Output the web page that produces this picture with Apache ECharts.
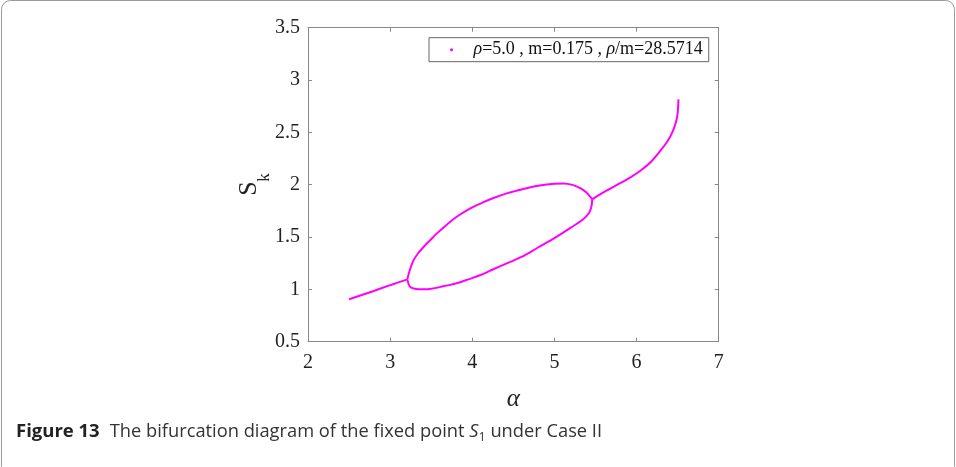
<!DOCTYPE html>
<html>
<head>
<meta charset="utf-8">
<script src="https://cdn.jsdelivr.net/npm/echarts@6/dist/echarts.min.js"></script>
<style>html,body{margin:0;padding:0;background:#fff;}#c{width:956px;height:467px;}</style>
</head>
<body>
<div id="c"></div>
<script>
// ---- data ----
const seriesName = 'ρ=5.0 , m=0.175 , ρ/m=28.5714';
const xTicks = [2, 3, 4, 5, 6, 7];
const yTicks = [0.5, 1, 1.5, 2, 2.5, 3, 3.5];

// period-1 branch before first bifurcation
const alphaLeft = [2.5, 2.8, 3.0, 3.21];
const sLeft     = [0.905, 0.985, 1.04, 1.095];

// upper period-2 branch
const alphaUpper = [3.21, 3.22, 3.24, 3.28, 3.34, 3.41, 3.49, 3.57, 3.69, 3.81, 3.95, 4.10, 4.25, 4.42, 4.60, 4.80, 5.00, 5.11, 5.22, 5.32, 5.39, 5.43, 5.46];
const sUpper     = [1.095, 1.13, 1.185, 1.27, 1.345, 1.407, 1.472, 1.535, 1.618, 1.694, 1.763, 1.82, 1.87, 1.917, 1.955, 1.99, 2.01, 2.012, 1.998, 1.965, 1.925, 1.89, 1.86];

// lower period-2 branch
const alphaLower = [3.21, 3.225, 3.25, 3.30, 3.40, 3.50, 3.65, 3.81, 3.95, 4.10, 4.25, 4.42, 4.60, 4.80, 5.00, 5.20, 5.35, 5.42, 5.45, 5.46];
const sLower     = [1.095, 1.05, 1.02, 1.005, 1.0, 1.005, 1.03, 1.058, 1.095, 1.137, 1.19, 1.249, 1.31, 1.40, 1.49, 1.59, 1.67, 1.73, 1.79, 1.86];

// period-1 branch after second bifurcation
const alphaRight = [5.46, 5.56, 5.68, 5.80, 5.93, 6.05, 6.17, 6.29, 6.38, 6.44, 6.48, 6.50, 6.51];
const sRight     = [1.86, 1.91, 1.962, 2.015, 2.072, 2.135, 2.215, 2.325, 2.42, 2.51, 2.60, 2.68, 2.815];

// ---- build ----
const pair = (a, s) => a.map((v, i) => [v, s[i]]);
const curveColor = '#ff00ff';
const axisColor = '#888888';
const serif = '"Liberation Serif", "Times New Roman", serif';
const sans = '"Open Sans", "Noto Sans", sans-serif';

function branch(a, s) {
  return {
    type: 'line', name: seriesName, data: pair(a, s),
    showSymbol: false, smooth: 0.35, clip: true,
    lineStyle: { color: curveColor, width: 2 },
    itemStyle: { color: curveColor },
    silent: true, animation: false
  };
}

const chart = echarts.init(document.getElementById('c'), null, { renderer: 'canvas' });
const baseAxis = {
  axisLine: { show: true, lineStyle: { color: axisColor, width: 1 } },
  axisTick: { show: true, inside: true, length: 4, lineStyle: { color: axisColor } },
  splitLine: { show: false }
};
chart.setOption({
  animation: false,
  backgroundColor: '#ffffff',
  grid: { left: 308, top: 27.7, right: 237.3, bottom: 125.3 },
  xAxis: [
    Object.assign({}, baseAxis, {
      type: 'value', min: xTicks[0], max: xTicks[xTicks.length - 1], interval: 1, position: 'bottom',
      axisLabel: { color: '#222', fontFamily: serif, fontSize: 20, margin: 11 },
      name: 'α', nameLocation: 'middle', nameGap: 45,
      nameTextStyle: { fontFamily: serif, fontStyle: 'italic', fontSize: 25, color: '#222' }
    }),
    Object.assign({}, baseAxis, {
      type: 'value', min: xTicks[0], max: xTicks[xTicks.length - 1], interval: 1, position: 'top',
      axisLabel: { show: false }
    })
  ],
  yAxis: [
    Object.assign({}, baseAxis, {
      type: 'value', min: yTicks[0], max: yTicks[yTicks.length - 1], interval: 0.5, position: 'left',
      axisLabel: { color: '#222', fontFamily: serif, fontSize: 20, margin: 8 }
    }),
    Object.assign({}, baseAxis, {
      type: 'value', min: yTicks[0], max: yTicks[yTicks.length - 1], interval: 0.5, position: 'right',
      axisLabel: { show: false }
    })
  ],
  legend: {
    left: 429, top: 37.7,
    orient: 'horizontal',
    data: [{ name: seriesName, icon: 'circle' }],
    itemWidth: 34, itemHeight: 3,
    padding: [3, 6, 3, 21],
    borderColor: '#666', borderWidth: 1, backgroundColor: '#fff',
    formatter: () => '{i|ρ}=5.0 , m=0.175 , {i|ρ}/m=28.5714',
    textStyle: {
      fontFamily: serif, fontSize: 18, color: '#111', lineHeight: 17,
      rich: { i: { fontFamily: serif, fontStyle: 'italic', fontSize: 18, color: '#111', lineHeight: 17 } }
    },
    selectedMode: false
  },
  series: [
    branch(alphaLeft, sLeft),
    branch(alphaUpper, sUpper),
    branch(alphaLower, sLower),
    branch(alphaRight, sRight)
  ],
  graphic: [
    {
      type: 'rect', silent: true, z: -1,
      shape: { x: 1.5, y: 0.5, width: 953, height: 475, r: 9 },
      style: { fill: 'none', stroke: '#9a9a9a', lineWidth: 1 }
    },
    // y-axis title S_k (rotated)
    {
      type: 'text', x: 249, y: 188.5, rotation: Math.PI / 2, silent: true,
      style: { text: 'S', font: '26px "Liberation Serif", serif', fill: '#222', align: 'center', verticalAlign: 'middle' }
    },
    {
      type: 'text', x: 264.5, y: 177.5, rotation: Math.PI / 2, silent: true,
      style: { text: 'k', font: '17px "Liberation Serif", serif', fill: '#222', align: 'center', verticalAlign: 'middle' }
    },
    {
      type: 'text', left: 16, top: 422, silent: true,
      style: {
        text: '{b|Figure 13}   {n|The bifurcation diagram of the fixed point }{it|S}{sub|1}{n| under Case II}',
        rich: {
          b: { fontFamily: sans, fontWeight: 'bold', fontSize: 18.5, fill: '#222', lineHeight: 24 },
          n: { fontFamily: sans, fontSize: 18.3, fill: '#333', lineHeight: 24 },
          it: { fontFamily: sans, fontStyle: 'italic', fontSize: 18.3, fill: '#333', lineHeight: 24 },
          sub: { fontFamily: sans, fontSize: 12.5, fill: '#333', lineHeight: 24, verticalAlign: 'bottom', padding: [6, 0, 0, 0] }
        }
      }
    }
  ]
});
</script>
</body>
</html>
